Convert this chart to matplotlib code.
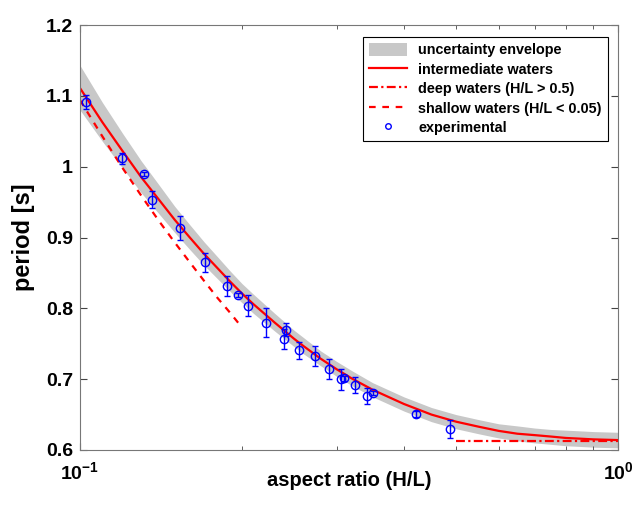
import numpy as np
import matplotlib
matplotlib.use('Agg')
import matplotlib.pyplot as plt
from matplotlib.patches import Patch
from matplotlib.lines import Line2D
from matplotlib.ticker import NullFormatter

plt.rcParams['font.family'] = ['Liberation Sans', 'DejaVu Sans']
plt.rcParams['font.weight'] = 'bold'
plt.rcParams['mathtext.fontset'] = 'custom'
plt.rcParams['mathtext.bf'] = 'Liberation Sans:bold'
plt.rcParams['mathtext.rm'] = 'Liberation Sans:bold'

# experimental points (H/L, period, error)
expX = [0.1025, 0.1195, 0.1314, 0.1363, 0.1534, 0.1707, 0.1878, 0.1964, 0.2049,
        0.2216, 0.2415, 0.2397, 0.2557, 0.2730, 0.2906, 0.3050, 0.3100, 0.3243,
        0.3416, 0.3499, 0.4212, 0.4874]
expT = [1.091, 1.012, 0.990, 0.953, 0.913, 0.865, 0.831, 0.819, 0.804,
        0.780, 0.770, 0.757, 0.741, 0.733, 0.714, 0.700, 0.701, 0.692,
        0.676, 0.681, 0.651, 0.630]
expErr = [0.010, 0.008, 0.003, 0.012, 0.017, 0.013, 0.014, 0.003, 0.015,
          0.020, 0.009, 0.014, 0.012, 0.014, 0.014, 0.015, 0.004, 0.011,
          0.011, 0.003, 0.004, 0.013]

# intermediate waters curve + uncertainty envelope
intX = [0.10, 0.11, 0.12, 0.13, 0.14, 0.15, 0.16, 0.17, 0.18, 0.19, 0.20, 0.21,
        0.23, 0.25, 0.26, 0.28, 0.30, 0.32, 0.35, 0.40, 0.45, 0.50, 0.55, 0.60,
        0.65, 0.70, 0.75, 0.80, 0.85, 0.90, 1.00]
intT = [1.111, 1.063, 1.022, 0.985, 0.954, 0.925, 0.900, 0.877, 0.857, 0.838, 0.821, 0.806,
        0.780, 0.757, 0.747, 0.729, 0.714, 0.701, 0.685, 0.665, 0.650, 0.640, 0.633, 0.627,
        0.623, 0.621, 0.619, 0.617, 0.616, 0.615, 0.614]
envHi = [1.143, 1.091, 1.047, 1.008, 0.975, 0.944, 0.918, 0.894, 0.873, 0.853, 0.835, 0.820,
         0.793, 0.769, 0.759, 0.740, 0.725, 0.712, 0.695, 0.675, 0.660, 0.650, 0.643, 0.637,
         0.634, 0.631, 0.629, 0.628, 0.627, 0.626, 0.625]
envLo = [1.080, 1.036, 0.998, 0.963, 0.934, 0.907, 0.883, 0.861, 0.842, 0.824, 0.808, 0.793,
         0.768, 0.746, 0.736, 0.719, 0.704, 0.691, 0.675, 0.655, 0.640, 0.630, 0.623, 0.617,
         0.613, 0.610, 0.608, 0.606, 0.605, 0.604, 0.603]

# shallow waters
shX = [0.10, 0.11, 0.12, 0.13, 0.14, 0.15, 0.16, 0.17, 0.18, 0.19, 0.20]
shT = [1.094, 1.043, 0.998, 0.959, 0.924, 0.893, 0.865, 0.839, 0.815, 0.794, 0.773]

# deep waters
dpX = [0.5, 1.0]
dpT = [0.613, 0.613]

dashdot = (0, (4, 1.5, 1, 1.5))
dashed = (0, (3, 3))

fig = plt.figure(figsize=(6.41, 5.17), dpi=100)
ax = fig.add_axes([0.1248, 0.1296, 0.8393, 0.8220])

ax.fill_between(intX, envLo, envHi, color='#c8c8c8', linewidth=0)
ax.plot(intX, intT, color='red', lw=1.6)
ax.plot(dpX, dpT, color='red', lw=1.6, linestyle=dashdot)
ax.plot(shX, shT, color='red', lw=1.6, linestyle=dashed)
ax.errorbar(expX, expT, yerr=expErr, fmt='o', mfc='none', mec='blue', color='blue',
            ms=6, mew=1.0, elinewidth=1.0, capsize=2.5, capthick=1.0)

ax.set_xscale('log')
ax.set_xlim(0.1, 1)
ax.set_ylim(0.6, 1.2)
ax.set_xticks([0.1, 1])
ax.set_xticklabels([r'$\mathbf{10^{-1}}$', r'$\mathbf{10^{0}}$'])
ax.xaxis.set_minor_formatter(NullFormatter())
ax.set_yticks([0.6, 0.7, 0.8, 0.9, 1.0, 1.1, 1.2])
ax.set_yticklabels(['0.6', '0.7', '0.8', '0.9', '1', '1.1', '1.2'])
ax.tick_params(which='both', direction='in', top=True, right=True, labelsize=14, color='#444444')
ax.tick_params(which='major', length=5)
ax.tick_params(which='minor', length=3)
ax.tick_params(axis='y', pad=5)
ax.tick_params(axis='x', pad=8)
for s in ax.spines.values():
    s.set_color('#777777')

ax.set_xlabel('aspect ratio (H/L)', fontsize=14.5, fontweight='bold')
ax.xaxis.set_label_coords(0.5, -0.05)
ax.set_ylabel('period [s]', fontsize=17, fontweight='bold')
ax.yaxis.set_label_coords(-0.084, 0.5)

handles = [Patch(facecolor='#c8c8c8', edgecolor='none'),
           Line2D([], [], color='red', lw=1.6),
           Line2D([], [], color='red', lw=1.6, linestyle=dashdot),
           Line2D([], [], color='red', lw=1.6, linestyle=dashed),
           Line2D([], [], color='blue', marker='o', mfc='none', ls='none', ms=4)]
labels = ['uncertainty envelope', 'intermediate waters', 'deep waters (H/L > 0.5)',
          'shallow waters (H/L < 0.05)', 'experimental']
leg = ax.legend(handles, labels, loc='upper right', bbox_to_anchor=(0.981, 0.972),
                borderaxespad=0, fontsize=10.4, fancybox=False, edgecolor='black',
                framealpha=1, handlelength=2.66, handleheight=1.0, borderpad=0.4,
                labelspacing=0.35)
leg.get_frame().set_linewidth(0.8)
for t in leg.get_texts():
    t.set_fontweight('bold')

fig.savefig('out.png', dpi=100)
